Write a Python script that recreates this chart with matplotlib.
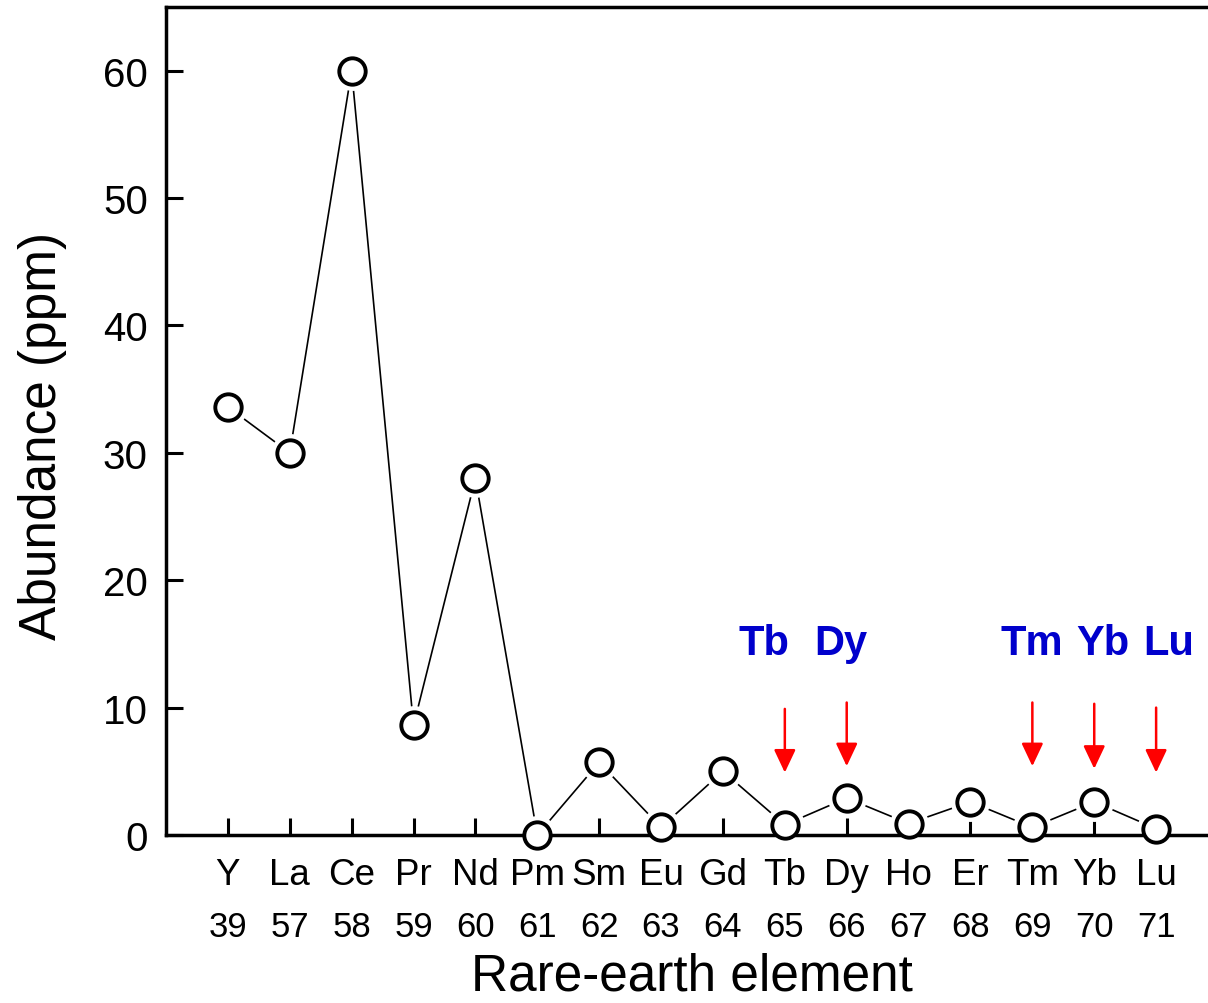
import matplotlib
matplotlib.use('Agg')
import matplotlib.pyplot as plt
import matplotlib.transforms as mtransforms

plt.rcParams['font.family'] = 'Liberation Sans'

#Rare-earth elements, atomic numbers and abundance (ppm)
elements = ['Y', 'La', 'Ce', 'Pr', 'Nd', 'Pm', 'Sm', 'Eu', 'Gd',
            'Tb', 'Dy', 'Ho', 'Er', 'Tm', 'Yb', 'Lu']
numbers = ['39', '57', '58', '59', '60', '61', '62', '63', '64',
           '65', '66', '67', '68', '69', '70', '71']
abundance = [33.6, 30.0, 60.0, 8.6, 28.0, 0.0, 5.7, 0.6, 5.0,
             0.8, 2.9, 0.9, 2.6, 0.6, 2.6, 0.5]

#Highlighted elements (blue labels + red arrows)
marked = ['Tb', 'Dy', 'Tm', 'Yb', 'Lu']
label_x = [8.66, 9.91, 12.99, 14.14, 15.21]
arrow_top = [9.9, 10.4, 10.4, 10.3, 10.0]
arrow_tip = [4.9, 5.4, 5.4, 5.2, 4.9]

x = list(range(len(elements)))

fig = plt.figure(figsize=(12.08, 10.04), dpi=100)
ax = fig.add_axes([166 / 1208, 168 / 1004, 1052 / 1208, 828 / 1004])

#line, white halo to leave a gap, then hollow markers
ax.plot(x, abundance, color='black', lw=1.2, zorder=2)
ax.plot(x, abundance, linestyle='none', marker='o', ms=28,
        mfc='white', mec='none', zorder=2.2, clip_on=False)
ax.plot(x, abundance, linestyle='none', marker='o', ms=19,
        mfc='white', mec='black', mew=2.8, zorder=3, clip_on=False)

for name, lx, top, tip in zip(marked, label_x, arrow_top, arrow_tip):
    i = elements.index(name)
    ax.text(lx, 14.2, name, color='#0000cc', fontsize=30,
            fontweight='bold', ha='center', va='baseline')
    ax.annotate('', xy=(i, tip), xytext=(i, top),
                arrowprops=dict(arrowstyle='-|>,head_width=0.33,head_length=0.7',
                                color='red', lw=1.8, mutation_scale=20,
                                shrinkA=0, shrinkB=0))

ax.set_xlim(-1, 16)
ax.set_ylim(0, 65)
ax.set_yticks([0, 10, 20, 30, 40, 50, 60])
ax.set_xticks(x, elements)

ax.spines['right'].set_visible(False)
for side in ['left', 'bottom', 'top']:
    ax.spines[side].set_linewidth(2.5)
ax.tick_params(axis='both', direction='in', length=12, width=2.2)
ax.tick_params(axis='x', labelsize=26.5, pad=16)
ax.tick_params(axis='y', labelsize=29, pad=13)

#second row of labels: atomic numbers
trans = mtransforms.blended_transform_factory(ax.transData, ax.transAxes)
for i, num in zip(x, numbers):
    ax.text(i, -0.09, num, transform=trans, fontsize=25,
            ha='center', va='top')

ax.set_xlabel('Rare-earth element', fontsize=37)
ax.xaxis.set_label_coords(0.5, -0.141)
ax.set_ylabel('Abundance (ppm)', fontsize=37)
ax.yaxis.set_label_coords(-0.094, 0.483)

fig.savefig('out.png', dpi=100)
